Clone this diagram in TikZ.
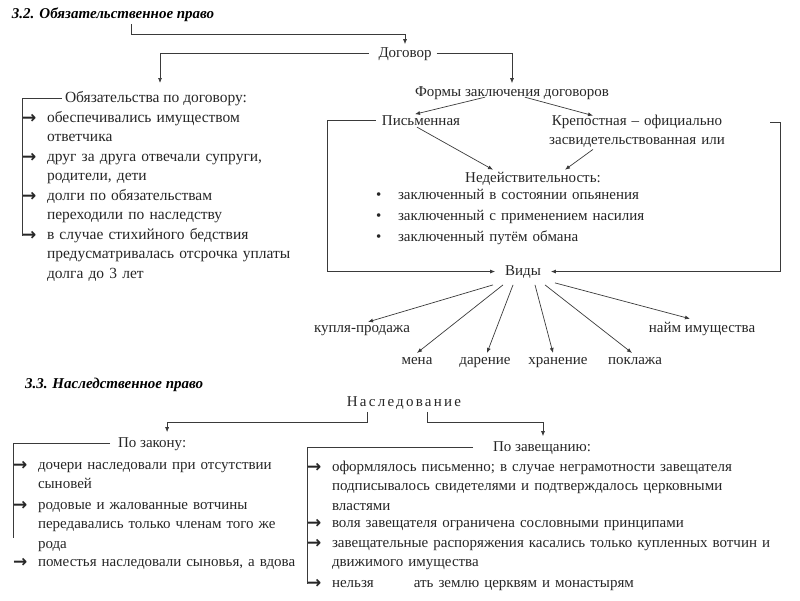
\documentclass[tikz,border=0pt]{standalone}
\usepackage{fontspec}
\setmainfont{Liberation Serif}
\newfontfamily\arrowfont{DejaVu Sans}
\usepackage{xcolor}
\usepackage{tikz}
\usetikzlibrary{arrows.meta, positioning, calc}

\definecolor{ink}{HTML}{262626}
\definecolor{wire}{HTML}{3A3A3A}

\begin{document}
\begin{tikzpicture}[
    x = 1pt, y = -1pt,
    txt/.style = {inner sep=0pt, outer sep=0pt, text=ink, font=\fontsize{15}{19.5}\selectfont},
    head/.style = {txt, anchor=base west, font=\fontsize{15}{19.5}\selectfont\bfseries\itshape, text=black},
    word/.style = {txt, anchor=base},
    item/.style = {txt, anchor=base west, align=left, text width=#1},
    item/.default = 300pt,
    pointer/.style = {txt, anchor=base west, yshift=-1.5pt, font=\arrowfont\bfseries\fontsize{17}{19}\selectfont},
    dot/.style = {txt, anchor=base west},
    link/.style = {draw=wire, line width=0.7pt},
    arrow/.style = {link, -{Latex[length=5pt,width=4pt]}}
]
    \useasboundingbox (0,0) rectangle (800,600);

    % 3.2
    \node[head] (law32) at (12,18) {3.2. Обязательственное право};
    \node[word] (contract) at (405,57) {Договор};
    \node[word] (forms) at (512,96) {Формы заключения договоров};
    \node[word] (written) at (421,125) {Письменная};
    \node[txt, anchor=base, text width=200pt, align=center] (notary) at (637,125) {Крепостная – официально\\засвидетельствованная или};
    \node[word] (invalid) at (533,182) {Недействительность:};
    \node[txt, anchor=base west, font=\fontsize{15.5}{19.5}\selectfont] (duties) at (65,102) {Обязательства по договору:};

    \node[pointer] (d1p) at (22,122) {→};
    \node[item, font=\fontsize{15.5}{19.5}\selectfont] (d1) at (47,122) {обеспечивались имуществом\\ответчика};
    \node[pointer] (d2p) at (22,161) {→};
    \node[item, font=\fontsize{15.5}{19.5}\selectfont] (d2) at (47,161) {друг за друга отвечали супруги,\\родители, дети};
    \node[pointer] (d3p) at (22,200) {→};
    \node[item, font=\fontsize{15.5}{19.5}\selectfont] (d3) at (47,200) {долги по обязательствам\\переходили по наследству};
    \node[pointer] (d4p) at (22,239) {→};
    \node[item, font=\fontsize{15.5}{19.5}\selectfont] (d4) at (47,239) {в случае стихийного бедствия\\предусматривалась отсрочка уплаты\\долга до 3 лет};

    \node[dot] (b1p) at (376,199) {•};
    \node[item] (b1) at (398,199) {заключенный в состоянии опьянения};
    \node[dot] (b2p) at (376,220) {•};
    \node[item] (b2) at (398,220) {заключенный с применением насилия};
    \node[dot] (b3p) at (376,241) {•};
    \node[item] (b3) at (398,241) {заключенный путём обмана};

    \node[word] (kinds) at (523,275) {Виды};
    \node[word] (sale) at (362,332) {купля-продажа};
    \node[word] (hire) at (702,332) {найм имущества};
    \node[word] (swap) at (417,364) {мена};
    \node[word] (gift) at (485,364) {дарение};
    \node[word] (keep) at (558,364) {хранение};
    \node[word] (store) at (635,364) {поклажа};

    \coordinate (law32hook) at (131,24);
    \coordinate (dutiesin) at (160,83);
    \coordinate (leftrail) at (327,0);
    \coordinate (rightend) at (770,122);

    \draw[arrow] (law32hook) -- ++(0,10) -| ([yshift=3pt]contract.north);
    \draw[arrow] ([xshift=-10pt]contract.west) -| (dutiesin);
    \draw[arrow] ([xshift=5pt]contract.east) -| ([yshift=3pt]forms.north);
    \draw[arrow] ([xshift=-27pt,yshift=2pt]forms.south) -- ([xshift=-6pt,yshift=1pt]written.north);
    \draw[arrow] ([xshift=13pt,yshift=2pt]forms.south) -- ([xshift=-44pt,yshift=-1pt]notary.north);
    \draw[arrow] ([xshift=-4pt,yshift=-2pt]written.south) -- ([xshift=-40pt,yshift=2pt]invalid.north);
    \draw[arrow] ([xshift=-44pt,yshift=-2pt]notary.south) -- ([xshift=32pt,yshift=2pt]invalid.north);
    \draw[arrow] ([xshift=-6pt]written.west) -- (written.west -| leftrail) |- ([xshift=-10pt]kinds.west);
    \draw[arrow] (rightend) -- ++(10,0) |- ([xshift=10pt]kinds.east);
    \draw[link] ([xshift=-3pt]duties.west) -| (d4p.west);

    \draw[arrow] ([xshift=-30pt,yshift=-7pt]kinds.south) -- ([xshift=6pt,yshift=3pt]sale.north);
    \draw[arrow] ([xshift=-20pt,yshift=-7pt]kinds.south) -- ([yshift=4pt]swap.north);
    \draw[arrow] ([xshift=-10pt,yshift=-7pt]kinds.south) -- ([xshift=2pt,yshift=4pt]gift.north);
    \draw[arrow] ([xshift=12pt,yshift=-7pt]kinds.south) -- ([xshift=-5pt,yshift=4pt]keep.north);
    \draw[arrow] ([xshift=22pt,yshift=-7pt]kinds.south) -- ([xshift=-3pt,yshift=4pt]store.north);
    \draw[arrow] ([xshift=32pt,yshift=-5pt]kinds.south) -- ([xshift=-12pt,yshift=3pt]hire.north);

    % 3.3
    \node[head] (law33) at (25,388) {3.3. Наследственное право};
    \node[word, font=\fontsize{15}{19.5}\selectfont\addfontfeatures{LetterSpace=15}] (inherit) at (404,406) {Наследование};
    \node[txt, anchor=base west] (bylaw) at (118,447) {По закону:};
    \node[txt, anchor=base west] (bywill) at (493,451) {По завещанию:};

    \node[pointer] (l1p) at (13,469) {→};
    \node[item] (l1) at (38,469) {дочери наследовали при отсутствии\\сыновей};
    \node[pointer] (l2p) at (13,509) {→};
    \node[item] (l2) at (38,509) {родовые и жалованные вотчины\\передавались только членам того же\\рода};
    \node[pointer] (l3p) at (13,566) {→};
    \node[item] (l3) at (38,566) {поместья наследовали сыновья, а вдова};

    \node[pointer] (w1p) at (307,471) {→};
    \node[item=460pt] (w1) at (332,471) {оформлялось письменно; в случае неграмотности завещателя\\подписывалось свидетелями и подтверждалось церковными\\властями};
    \node[pointer] (w2p) at (307,527) {→};
    \node[item=460pt] (w2) at (332,527) {воля завещателя ограничена сословными принципами};
    \node[pointer] (w3p) at (307,547) {→};
    \node[item=460pt] (w3) at (332,547) {завещательные распоряжения касались только купленных вотчин и\\движимого имущества};
    \node[pointer] (w4p) at (307,587) {→};
    \node[item=460pt] (w4) at (332,587) {нельзя\hspace{40pt}ать землю церквям и монастырям};

    \coordinate (bylawend) at (13,538);

    \draw[arrow] ([xshift=-37pt,yshift=-3pt]inherit.south) -- ++(0,10) -| ([xshift=15pt,yshift=5pt]bylaw.north);
    \draw[arrow] ([xshift=23pt,yshift=-3pt]inherit.south) -- ++(0,10) -| ([xshift=1pt,yshift=5pt]bywill.north);
    \draw[link] ([xshift=-8pt]bylaw.west) -| (bylawend);
    \draw[link] ([xshift=-20pt]bywill.west) -| (w4p.west);
\end{tikzpicture}
\end{document}
